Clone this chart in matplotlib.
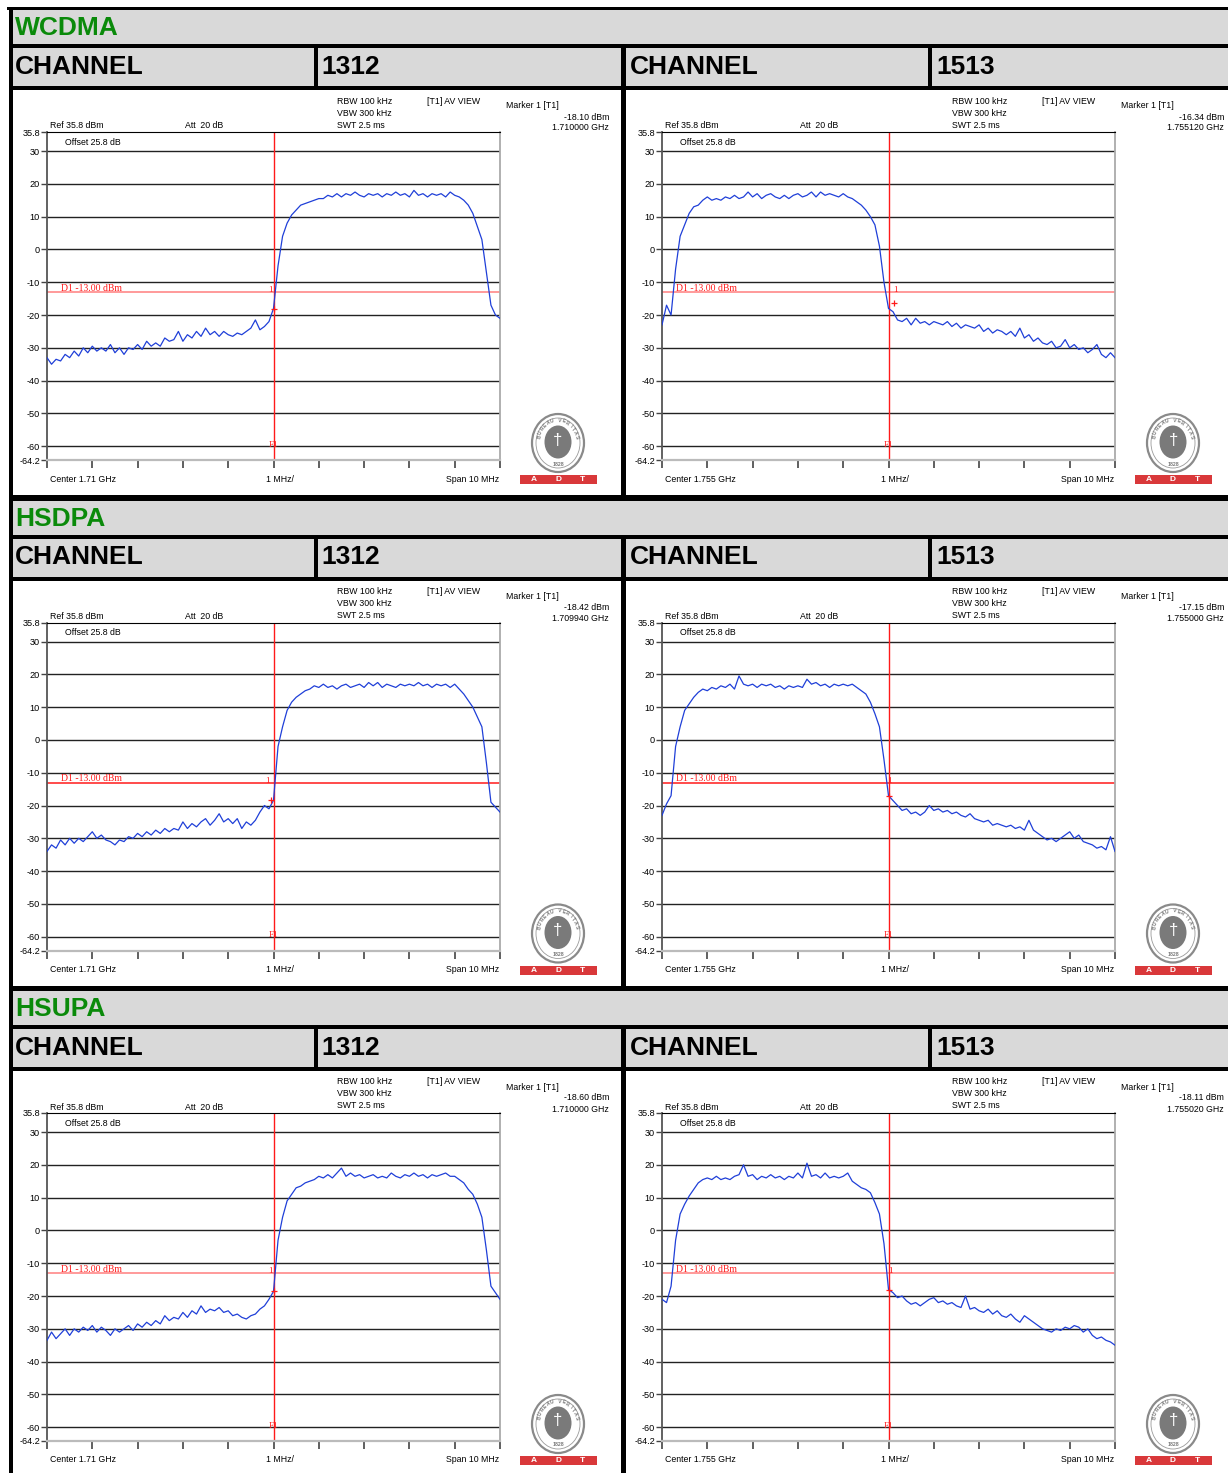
import numpy as np
import matplotlib
matplotlib.use("Agg")
import matplotlib.pyplot as plt
from matplotlib.patches import Rectangle, Ellipse

plt.rcParams["font.family"] = ["Liberation Sans", "DejaVu Sans"]

# frequency offset from centre, MHz (span 10 MHz)
freq_offset = np.round(np.arange(-5.0, 5.05, 0.1), 1)

modes = ["WCDMA", "HSDPA", "HSUPA"]
channels = ["1312", "1513"]
centers = ["1.71 GHz", "1.755 GHz"]
limit_dbm = -13.0

# marker 1 readouts (value, frequency) per mode / channel
marker_dbm = [[-18.10, -16.34], [-18.42, -17.15], [-18.60, -18.11]]
marker_ghz = [["1.710000", "1.755120"], ["1.709940", "1.755000"], ["1.710000", "1.755020"]]

wcdma_1312 = [-33, -35, -33.5, -34, -32, -33, -31, -32.5, -30, -31.5,
              -29.5, -31, -30, -31, -29, -31.5, -30, -32, -30, -30.5,
              -29, -30.5, -28, -29.5, -28.5, -29.5, -27, -28, -27.5, -25,
              -28, -26, -27, -25, -26.5, -24, -26, -25, -26.5, -25,
              -26, -26.5, -25.5, -26, -25, -24, -21.5, -24.5, -23.5, -22,
              -18, -5, 4, 8, 10.5, 12, 13.5, 14, 14.5, 15,
              15.5, 15.5, 16.5, 16, 17, 16, 17, 16.5, 17.5, 16.5,
              16, 17, 16.5, 17, 16, 17, 16.5, 17.5, 16.5, 17,
              16, 18, 16.5, 17, 16, 17, 16.5, 17, 16, 17.5,
              16.5, 16, 15, 13.5, 11, 7, 3, -7, -17, -20, -21]

wcdma_1513 = [-23, -17, -20, -6, 4, 7.5, 11, 13, 13.5, 15,
              16, 15, 15.5, 15, 16, 15.5, 16.5, 15.5, 16, 17.5,
              16, 17, 15.5, 16.5, 17, 16, 15.5, 16.5, 15.5, 16.5,
              17, 16, 16.5, 17.5, 16, 17.5, 16.5, 17, 16.5, 16,
              17, 16, 15.5, 14.5, 13.5, 12, 10, 7.5, 1, -10,
              -18, -19, -21.5, -22, -21, -23, -21, -22.5, -22, -23,
              -22, -22.5, -23, -22, -23.5, -22.5, -24, -23, -23.5, -24,
              -23, -25, -24, -25.5, -24.5, -25, -26, -25, -26.5, -24,
              -27, -26, -28, -27, -28.5, -29, -28, -30, -29.5, -27.5,
              -30, -29, -30.5, -30, -31.5, -30.5, -29, -32, -33, -31.5, -33]

hsdpa_1312 = [-34, -32, -33, -30.5, -32, -30, -31.5, -30, -31, -29.5,
              -28, -30, -29, -30.5, -31, -32, -30.5, -31, -29.5, -30,
              -28.5, -29.5, -28, -29, -27.5, -28.5, -27, -28, -27, -27.5,
              -25, -27, -25.5, -26.5, -25, -24, -26, -24.5, -22.5, -25,
              -24, -25.5, -24, -27, -25, -26, -24.5, -22, -20, -21,
              -18.4, -2, 4, 9, 11.5, 13, 14, 15, 15.5, 16.5,
              16, 17, 16, 16.5, 15.5, 16.5, 17, 16, 16.5, 17,
              16, 17.5, 16.5, 17.5, 16, 17, 16.5, 16, 17, 16.5,
              17, 16.5, 17.5, 16.5, 17, 16, 17, 16.5, 17, 16,
              17, 15.5, 14, 12, 10, 7, 4, -7, -19, -20.5, -22]

hsdpa_1513 = [-23, -19.5, -17, -2, 4, 9, 11, 13, 14.5, 15.5,
              15, 16, 15.5, 16.5, 16, 17, 15.5, 19.5, 17, 16.5,
              17, 16, 17, 16.5, 17, 16, 16.5, 15.5, 16.5, 16,
              16.5, 16, 18.5, 17, 17.5, 16.5, 17, 16, 17, 16.5,
              17, 16.5, 17, 16, 15, 14, 11.5, 8, 4, -6,
              -17, -18.5, -20, -21.5, -21, -22.5, -22, -23, -22, -20,
              -21.5, -21, -22, -21.5, -22.5, -22, -23, -23.5, -22.5, -24,
              -24.5, -25, -24.5, -26, -25.5, -26, -26.5, -26, -27, -26.5,
              -27.5, -24.5, -27.5, -28.5, -29.5, -30.5, -30, -31, -30, -29,
              -28, -30, -29, -31, -31.5, -32, -33, -32.5, -33.5, -29.5, -34]

hsupa_1312 = [-33.5, -31, -33, -31.5, -30, -32, -30, -31, -29.5, -30.5,
              -29, -31, -29.5, -30.5, -32, -30, -31, -30, -29, -30.5,
              -28.5, -29.5, -28, -29, -27.5, -28.5, -26, -27.5, -26.5, -27,
              -25, -26.5, -24.5, -25.5, -23, -25, -24, -24.5, -23.5, -25,
              -24.5, -26, -25.5, -26.5, -27, -26, -25.5, -24, -23, -21,
              -18.6, -3, 4, 9, 11, 13, 13.5, 14.5, 15, 15.5,
              16.5, 16, 17, 16, 17.5, 19, 16.5, 17.5, 16.5, 17,
              16, 16.5, 17, 16, 16.5, 16, 17.5, 16.5, 16, 17,
              16.5, 17.5, 16.5, 17, 16, 17, 16.5, 17, 17.5, 16.5,
              16.5, 15.5, 14.5, 12.5, 11, 8, 4, -6, -17, -19, -21]

hsupa_1513 = [-21, -22, -17, -3, 5, 8, 10.5, 12.5, 14.5, 15.5,
              16, 15.5, 16.5, 15.5, 16, 15.5, 16.5, 17, 20, 16.5,
              17, 15.5, 16.5, 16, 17, 16, 16.5, 15.5, 16.5, 16,
              17.5, 16, 20.5, 16.5, 17, 16, 17.5, 16, 16.5, 16,
              16.5, 17.5, 15, 14, 13, 12.5, 11.5, 8.5, 5, -4,
              -18, -19, -20.5, -20, -21.5, -22.5, -22, -23, -22, -21,
              -20.5, -22, -21.5, -22.5, -22, -23, -23.5, -20, -24, -23.5,
              -24.5, -25, -24, -25.5, -24.5, -26, -26.5, -25.5, -27, -28,
              -26, -27, -28, -29, -30, -30.5, -31, -30, -30.5, -29.5,
              -30, -29, -29.5, -31, -30, -32, -33, -32.5, -33.5, -34, -35]

traces = [[wcdma_1312, wcdma_1513], [hsdpa_1312, hsdpa_1513], [hsupa_1312, hsupa_1513]]
marker_offset = [[0.0, 0.12], [-0.06, 0.0], [0.0, 0.02]]

ytick_vals = [35.8, 30, 20, 10, 0, -10, -20, -30, -40, -50, -60, -64.2]
ytick_text = ["35.8", "30", "20", "10", "0", "-10", "-20", "-30", "-40", "-50", "-60", "-64.2"]

W, H = 1228, 1473
fig = plt.figure(figsize=(W / 100, H / 100), dpi=100)
bg = fig.add_axes([0, 0, 1, 1])
bg.set_xlim(0, W)
bg.set_ylim(H, 0)
bg.axis("off")

GRAY = "#d9d9d9"
BLUE = "#1f3fd8"
RED = "#ff1a1a"
ROW = 490.5


def rect(x0, y0, x1, y1, color, z=1):
    bg.add_patch(Rectangle((x0, y0), x1 - x0, y1 - y0, color=color, lw=0, zorder=z))


# frame lines
rect(7, 7, W, 10, "black")
rect(9, 7, 13, H, "black")

for r, mode in enumerate(modes):
    off = ROW * r
    rect(13, 10 + off, W, 44 + off, GRAY)
    rect(13, 44 + off, W, 48 + off, "black")
    rect(13, 48 + off, W, 86 + off, GRAY)
    rect(13, 86 + off, W, 90 + off, "black")
    for xa, xb in [(314, 318), (621, 626), (928, 932)]:
        rect(xa, 48 + off, xb, 86 + off, "black")
    rect(621, 90 + off, 626, 495 + off, "black")
    if r < 2:
        rect(13, 495 + off, W, 502 + off, "black")
    else:
        rect(621, 90 + off, 626, H, "black")
    bg.text(15, 28 + off, mode, color="#0a8a0a", fontsize=19, fontweight="bold", va="center")
    for c in range(2):
        cx = 615 * c
        bg.text(15 + cx, 67 + off, "CHANNEL", fontsize=19, fontweight="bold", va="center")
        bg.text(321 + cx, 67 + off, channels[c], fontsize=19, fontweight="bold", va="center")

        px0 = 47 + cx
        y0 = 132 + off
        fs = 6.3
        bg.text(px0 + 290, y0 - 31, "RBW 100 kHz", fontsize=fs, va="center")
        bg.text(px0 + 290, y0 - 19, "VBW 300 kHz", fontsize=fs, va="center")
        bg.text(px0 + 290, y0 - 7, "SWT 2.5 ms", fontsize=fs, va="center")
        bg.text(px0 + 380, y0 - 31, "[T1] AV VIEW", fontsize=fs, va="center")
        bg.text(px0 + 459, y0 - 26, "Marker 1 [T1]", fontsize=fs, va="center")
        bg.text(px0 + 562, y0 - 15, "%.2f dBm" % marker_dbm[r][c], fontsize=fs, va="center", ha="right")
        bg.text(px0 + 562, y0 - 4, marker_ghz[r][c] + " GHz", fontsize=fs, va="center", ha="right")
        bg.text(px0 + 3, y0 - 6, "Ref 35.8 dBm", fontsize=fs, va="center")
        bg.text(px0 + 138, y0 - 6, "Att  20 dB", fontsize=fs, va="center")
        bg.text(px0 + 3, y0 + 347, "Center " + centers[c], fontsize=fs, va="center")
        bg.text(px0 + 219, y0 + 347, "1 MHz/", fontsize=fs, va="center")
        bg.text(px0 + 452, y0 + 347, "Span 10 MHz", fontsize=fs, va="center", ha="right")

        # Bureau Veritas stamp + ADT bar
        lx, ly = px0 + 511, y0 + 311
        bg.add_patch(Ellipse((lx, ly), 52, 58, fill=False, ec="#8a8a8a", lw=1.6, zorder=3))
        bg.add_patch(Ellipse((lx, ly), 44, 50, fill=False, ec="#9a9a9a", lw=0.6, zorder=3))
        bg.add_patch(Ellipse((lx, ly - 1), 27, 33, color="#7a7a7a", lw=0, zorder=3))
        bg.text(lx, ly - 3, "\u2020", color="white", fontsize=12, ha="center", va="center", zorder=4)
        letters = "BUREAU VERITAS"
        for i, ch in enumerate(letters):
            a = np.radians(165 - i * 150 / (len(letters) - 1))
            bg.text(lx + 19.5 * np.cos(a), ly - 22.5 * np.sin(a), ch, fontsize=3.6,
                    color="#7a7a7a", fontweight="bold", ha="center", va="center",
                    rotation=np.degrees(a) - 90, zorder=4)
        bg.text(lx, ly + 21, "1828", fontsize=3.8, color="#7a7a7a", fontweight="bold",
                ha="center", va="center", zorder=4)
        rect(px0 + 473, y0 + 343, px0 + 550, y0 + 352, "#d9383a", z=3)
        for k, ch in enumerate("ADT"):
            bg.text(px0 + 487 + 24 * k, y0 + 347.5, ch, color="white", fontsize=6,
                    fontweight="bold", ha="center", va="center", zorder=4)

        # spectrum plot
        ax = fig.add_axes([px0 / W, 1 - (y0 + 328) / H, 453 / W, 328 / H])
        ax.set_xlim(-5, 5)
        ax.set_ylim(-64.2, 35.8)
        for g in [30, 20, 10, 0, -10, -20, -30, -40, -50, -60]:
            ax.axhline(g, color="#222222", lw=1.0, zorder=1)
        ax.axhline(limit_dbm, color="#ff7f7f" if r != 1 else RED, lw=1.1, zorder=2)
        ax.axvline(0, color=RED, lw=1.0, zorder=2)
        ax.plot(freq_offset, traces[r][c], color=BLUE, lw=0.9, zorder=3)
        mf = marker_offset[r][c]
        ax.plot([mf], [marker_dbm[r][c]], marker="+", color=RED, ms=5, mew=0.9, zorder=4)
        ax.text(mf - 0.02, -12.5, "1", color=RED, fontsize=6.5, family="Liberation Serif",
                ha="right" if c == 0 else "left", va="center", zorder=4)
        ax.text(0, -59.5, "F1", color=RED, fontsize=6.5, family="Liberation Serif",
                ha="center", va="center", zorder=4)
        d1x = -4.7 if c == 0 else -4.7
        ax.text(d1x, -11.8, "D1 -13.00 dBm", color=RED, fontsize=7, family="Liberation Serif",
                va="center", zorder=4)
        ax.text(-4.6, 32.6, "Offset 25.8 dB", fontsize=fs, va="center")

        ax.set_xticks(np.arange(-5, 5.01, 1))
        ax.set_xticklabels([])
        ax.tick_params(axis="x", direction="out", length=6, color="#444444", width=1.2)
        ax.set_yticks(ytick_vals)
        ax.set_yticklabels(ytick_text, fontsize=6.6)
        ax.tick_params(axis="y", direction="out", length=4, color="#444444", width=1, pad=1)
        ax.spines["top"].set_color("black")
        ax.spines["left"].set_color("#555555")
        ax.spines["left"].set_linewidth(1.3)
        ax.spines["right"].set_color("#aaaaaa")
        ax.spines["right"].set_linewidth(1.3)
        ax.spines["bottom"].set_color("#bbbbbb")
        ax.spines["bottom"].set_linewidth(1.6)
        ax.set_facecolor("white")

fig.savefig("out.png", dpi=100)
